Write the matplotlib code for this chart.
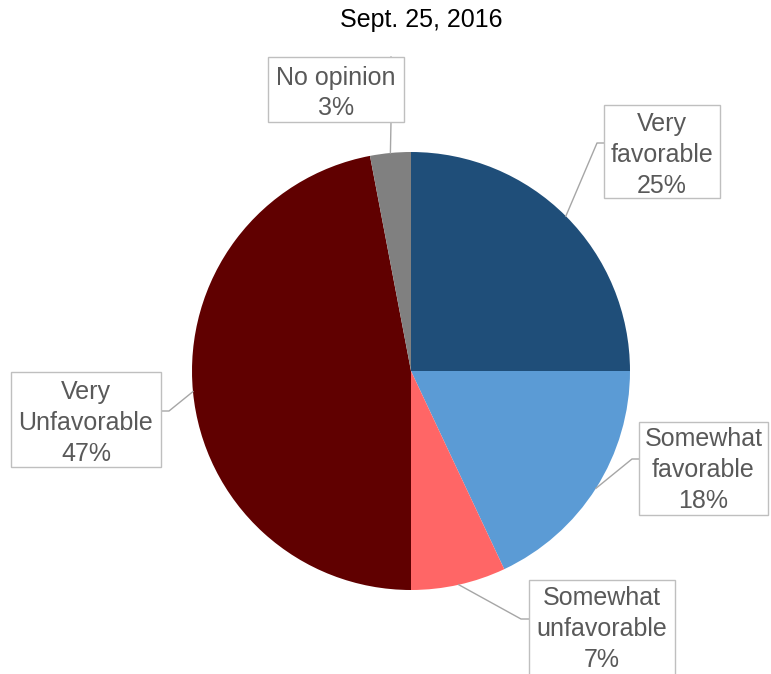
import numpy as np
import matplotlib.pyplot as plt
from matplotlib.patches import Rectangle

plt.rcParams['font.family'] = ['Liberation Sans', 'DejaVu Sans']

# Data
categories = ["Very\nfavorable", "Somewhat\nfavorable", "Somewhat\nunfavorable",
              "Very\nUnfavorable", "No opinion"]
percents = [25, 18, 7, 47, 3]
colors = ["#1F4E79", "#5B9BD5", "#FF6666", "#600000", "#808080"]

W, H = 771, 674
CX, CY, R = 411, H - 371, 219

# label boxes in pixel coords: (left, top, right, bottom), elbow point (x, y)
boxes = [
    ((604, 105, 720, 198), (597, 143)),
    ((639, 422, 768, 515), (632, 459)),
    ((529, 580, 675, 690), (521, 619)),
    ((11, 372, 161, 467), (169, 411)),
    ((268, 57, 404, 122), (391, 122)),
]
text_y = [155, 470, 629, 423, 93]

fig = plt.figure(figsize=(W / 100, H / 100), dpi=100)
ax = fig.add_axes([0, 0, 1, 1])

wedges, _ = ax.pie(percents, colors=colors, startangle=90, counterclock=False,
                   center=(CX, CY), radius=R, frame=False)
ax.set_xlim(0, W)
ax.set_ylim(0, H)
ax.set_aspect('equal')
ax.axis('off')

for w, cat, p, (box, elbow), ty in zip(wedges, categories, percents, boxes, text_y):
    # leader line from the middle of the wedge edge to the label box
    ang = np.deg2rad((w.theta1 + w.theta2) / 2)
    sx, sy = CX + R * np.cos(ang), CY + R * np.sin(ang)
    l, t, r, b = box
    ex, ey = elbow
    if ex < l:
        end = (l, ey)
    elif ex > r:
        end = (r, ey)
    else:
        end = (ex, t)
    ax.plot([sx, ex, end[0]], [sy, H - ey, H - end[1]], color="#A6A6A6", lw=1, zorder=1)
    ax.add_patch(Rectangle((l, H - b), r - l, b - t, facecolor="white",
                           edgecolor="#BFBFBF", lw=1, zorder=2))
    ax.text((l + r) / 2, H - ty, f"{cat}\n{p}%",
            ha="center", va="center", fontsize=18, color="#595959",
            linespacing=1.36, zorder=3)

ax.text(421, H - 20, "Sept. 25, 2016", ha="center", va="center", fontsize=18, color="black")

fig.savefig("out.png", dpi=100)
